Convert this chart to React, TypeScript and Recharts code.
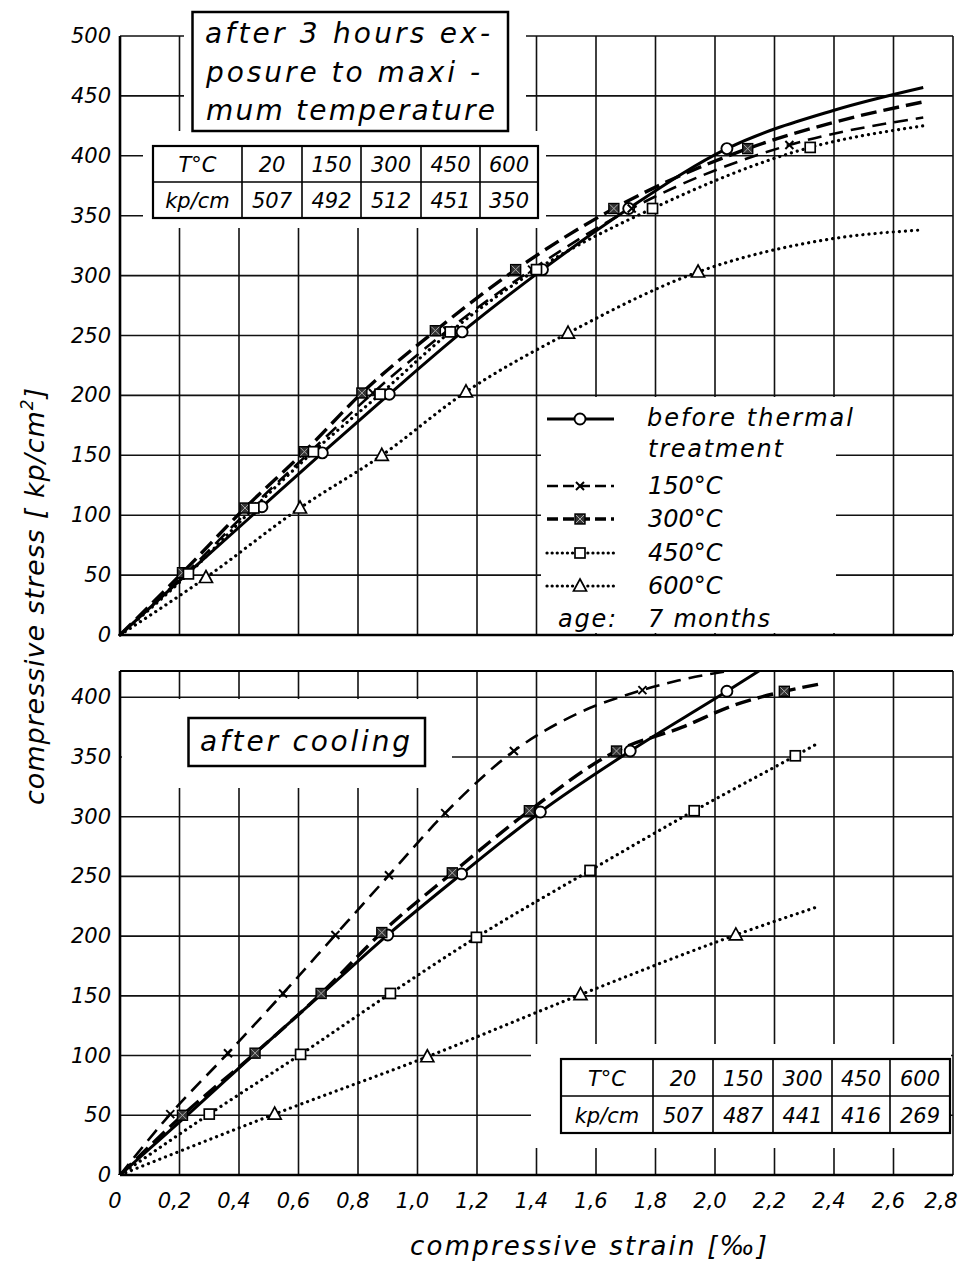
import { CartesianGrid, ComposedChart, Line, ReferenceLine, Scatter, XAxis, YAxis } from "recharts"

const FONT = "'DejaVu Sans', 'Liberation Sans', sans-serif"

const strainTicks = [0, 0.2, 0.4, 0.6, 0.8, 1.0, 1.2, 1.4, 1.6, 1.8, 2.0, 2.2, 2.4, 2.6, 2.8]
const topStressTicks = [0, 50, 100, 150, 200, 250, 300, 350, 400, 450, 500]
const bottomStressTicks = [0, 50, 100, 150, 200, 250, 300, 350, 400]
const bottomStressMax = 422

const tempLabels = ["20", "150", "300", "450", "600"]
const topStrength = ["507", "492", "512", "451", "350"]
const bottomStrength = ["507", "487", "441", "416", "269"]

const legendLabels = ["before thermal", "treatment", "150°C", "300°C", "450°C", "600°C"]

// after 3 hours exposure to maximum temperature  [strain ‰, stress kp/cm2]
const topBeforeMarks = [[0.477, 107], [0.68, 152], [0.905, 201], [1.15, 253], [1.42, 305], [1.71, 356], [2.04, 406]]
const topBeforeCurve = [[0, 0], [0.23, 52], ...topBeforeMarks, [2.4, 438], [2.7, 457]]
const top150Marks = [[0.22, 51], [0.44, 106], [0.64, 153], [0.85, 202], [1.1, 254], [1.385, 305], [1.72, 356], [2.25, 409]]
const top150Curve = [[0, 0], ...top150Marks, [2.7, 432]]
const top300Marks = [[0.21, 52], [0.42, 106], [0.62, 153], [0.813, 202], [1.06, 254], [1.33, 305], [1.66, 356], [2.11, 406]]
const top300Curve = [[0, 0], ...top300Marks, [2.4, 428], [2.7, 445]]
const top450Marks = [[0.23, 51], [0.45, 106], [0.65, 153], [0.874, 201], [1.11, 253], [1.4, 305], [1.79, 356], [2.32, 407]]
const top450Curve = [[0, 0], ...top450Marks, [2.7, 425]]
const top600Marks = [[0.289, 48], [0.605, 106], [0.88, 150], [1.163, 203], [1.506, 252], [1.943, 303]]
const top600Curve = [[0, 0], ...top600Marks, [2.4, 331], [2.69, 338]]

// after cooling
const botBeforeMarks = [[0.9, 201], [1.148, 252], [1.413, 304], [1.715, 355], [2.04, 405]]
const botBeforeCurve = [[0, 0], [0.23, 51], [0.455, 102], [0.68, 152], ...botBeforeMarks, [2.16, 424]]
const bot150Marks = [[0.169, 51], [0.363, 102], [0.548, 152], [0.724, 201], [0.904, 251], [1.093, 303], [1.324, 355], [1.756, 406]]
const bot150Curve = [[0, 0], ...bot150Marks.slice(0, 7), [1.543, 387], bot150Marks[7], [1.876, 414], [2.1, 424]]
const bot300Marks = [[0.21, 50], [0.454, 102], [0.676, 152], [0.88, 203], [1.117, 253], [1.376, 305], [1.669, 355], [2.233, 405]]
const bot300Curve = [[0, 0], ...bot300Marks.slice(0, 7), [1.89, 375], [2.06, 393], bot300Marks[7], [2.35, 411]]
const bot450Marks = [[0.3, 51], [0.607, 101], [0.909, 152], [1.198, 199], [1.58, 255], [1.93, 305], [2.27, 351]]
const bot450Curve = [[0, 0], ...bot450Marks, [2.35, 362]]
const bot600Marks = [[0.52, 51], [1.033, 99], [1.548, 151], [2.07, 201]]
const bot600Curve = [[0, 0], ...bot600Marks, [2.35, 225]]

const pts = (arr: number[][]) => arr.map(([s, v]) => ({ s, v }))

type Kind = "circle" | "cross" | "star" | "square" | "triangle"

function Marker({ kind, cx, cy }: { kind: Kind; cx: number; cy: number }) {
  if (kind === "circle") return <circle cx={cx} cy={cy} r={5.5} fill="#fff" stroke="#000" strokeWidth={1.9} />
  if (kind === "cross")
    return (
      <path
        d={`M${cx - 4},${cy - 4}L${cx + 4},${cy + 4}M${cx - 4},${cy + 4}L${cx + 4},${cy - 4}`}
        stroke="#000"
        strokeWidth={2}
      />
    )
  if (kind === "star")
    return (
      <g>
        <rect x={cx - 5} y={cy - 5} width={10} height={10} fill="#333" stroke="#000" strokeWidth={1.4} />
        <path
          d={`M${cx - 4},${cy - 4}L${cx + 4},${cy + 4}M${cx - 4},${cy + 4}L${cx + 4},${cy - 4}`}
          stroke="#aaa"
          strokeWidth={1}
        />
      </g>
    )
  if (kind === "square")
    return <rect x={cx - 5} y={cy - 5} width={10} height={10} fill="#fff" stroke="#000" strokeWidth={1.7} />
  return (
    <path
      d={`M${cx},${cy - 7}L${cx + 6.5},${cy + 5}L${cx - 6.5},${cy + 5}Z`}
      fill="#fff"
      stroke="#000"
      strokeWidth={1.7}
    />
  )
}

const styles: Record<string, { w: number; dash?: string; kind: Kind }> = {
  before: { w: 3, kind: "circle" },
  t150: { w: 2.6, dash: "14 8", kind: "cross" },
  t300: { w: 3.4, dash: "16 7", kind: "star" },
  t450: { w: 3.2, dash: "0.1 6", kind: "square" },
  t600: { w: 3.2, dash: "0.1 6", kind: "triangle" },
}

const isDotted = (key: string) => !!styles[key].dash && styles[key].dash!.startsWith("0.1")

const YTick = (props: any) => (
  <text
    x={props.x}
    y={props.y}
    textAnchor="end"
    dominantBaseline="central"
    fontFamily={FONT}
    fontStyle="italic"
    fontSize={21}
    fill="#000"
  >
    {props.payload.value}
  </text>
)

const XTick = (props: any) => {
  const v = props.payload.value
  return (
    <text
      x={props.x - (v >= 2.8 ? 12 : 5)}
      y={props.y + 33}
      textAnchor="middle"
      fontFamily={FONT}
      fontStyle="italic"
      fontSize={21}
      fill="#000"
    >
      {v === 0 ? "0" : v.toFixed(1).replace(".", ",")}
    </text>
  )
}

function seriesEls(list: { key: string; curve: number[][]; marks: number[][] }[]) {
  const lines = list.map(({ key, curve }) => (
    <Line
      key={"l" + key}
      data={pts(curve)}
      dataKey="v"
      type="monotone"
      stroke="#000"
      strokeWidth={styles[key].w}
      strokeDasharray={styles[key].dash}
      strokeLinecap={isDotted(key) ? "round" : "butt"}
      dot={false}
      activeDot={false}
      isAnimationActive={false}
    />
  ))
  const marks = list.map(({ key, marks }) => (
    <Scatter
      key={"m" + key}
      data={pts(marks)}
      dataKey="v"
      isAnimationActive={false}
      shape={(p: any) => <Marker kind={styles[key].kind} cx={p.cx} cy={p.cy} />}
    />
  ))
  return [...lines, ...marks]
}

function TableBox({ x, y, cols, rowH, rows }: { x: number; y: number; cols: number[]; rowH: number; rows: string[][] }) {
  const right = cols[cols.length - 1]
  return (
    <g>
      <rect x={x} y={y} width={right - x} height={rowH * 2} fill="#fff" stroke="#000" strokeWidth={2.2} />
      <line x1={x} x2={right} y1={y + rowH} y2={y + rowH} stroke="#000" strokeWidth={1.6} />
      {cols.slice(0, -1).map((c) => (
        <line key={c} x1={c} x2={c} y1={y} y2={y + rowH * 2} stroke="#000" strokeWidth={1.6} />
      ))}
      {rows.map((r, ri) =>
        r.map((t, ci) => {
          const l = ci === 0 ? x : cols[ci - 1]
          const rr = cols[ci]
          return (
            <text
              key={ri + "-" + ci}
              x={(l + rr) / 2}
              y={y + rowH * ri + rowH / 2 + 1}
              textAnchor="middle"
              dominantBaseline="central"
              fontFamily={FONT}
              fontStyle="italic"
              fontSize={21}
            >
              {t}
            </text>
          )
        })
      )}
    </g>
  )
}

const txt = { fontFamily: FONT, fontStyle: "italic" as const, fill: "#000" }

function Overlay() {
  const legendKeys = ["before", "t150", "t300", "t450", "t600"]
  const legendY = [419, 486, 519, 553, 586]
  return (
    <svg width={963} height={1263} style={{ position: "absolute", left: 0, top: 0, pointerEvents: "none" }}>
      {/* blank areas behind boxes */}
      <rect x={184} y={0} width={342} height={131} fill="#fff" />
      <rect x={143} y={131} width={403} height={97} fill="#fff" />
      <rect x={541} y={397} width={295} height={236} fill="#fff" />
      <rect x={836} y={397} width={40} height={44} fill="#fff" />
      <rect x={122} y={699} width={330} height={89} fill="#fff" />
      <rect x={531} y={1044} width={420} height={104} fill="#fff" />

      {/* top title */}
      <rect x={192.5} y={12} width={315.5} height={119} fill="#fff" stroke="#000" strokeWidth={2.5} />
      <text x={205} y={43} fontSize={28} textLength={285} lengthAdjust="spacing" {...txt}>after 3 hours ex-</text>
      <text x={206} y={82} fontSize={28} textLength={274} lengthAdjust="spacing" {...txt}>posure to maxi -</text>
      <text x={206} y={120} fontSize={28} textLength={289} lengthAdjust="spacing" {...txt}>mum temperature</text>

      <TableBox x={153} y={146} cols={[242, 302, 361, 421, 480, 538]} rowH={36} rows={[["T°C", ...tempLabels], ["kp/cm", ...topStrength]]} />

      {/* legend */}
      {legendKeys.map((k, i) => {
        const st = styles[k]
        return (
          <g key={k}>
            <line
              x1={547}
              x2={614}
              y1={legendY[i]}
              y2={legendY[i]}
              stroke="#000"
              strokeWidth={st.w}
              strokeDasharray={isDotted(k) ? "0.1 5" : k === "before" ? undefined : "11 5"}
              strokeLinecap={isDotted(k) ? "round" : "butt"}
            />
            <Marker kind={st.kind} cx={580} cy={legendY[i]} />
          </g>
        )
      })}
      <text x={647} y={426} fontSize={24} textLength={206} lengthAdjust="spacing" {...txt}>{legendLabels[0]}</text>
      <text x={648} y={457} fontSize={24} textLength={135} lengthAdjust="spacing" {...txt}>{legendLabels[1]}</text>
      <text x={648} y={494} fontSize={24} {...txt}>{legendLabels[2]}</text>
      <text x={648} y={527} fontSize={24} {...txt}>{legendLabels[3]}</text>
      <text x={648} y={561} fontSize={24} {...txt}>{legendLabels[4]}</text>
      <text x={648} y={594} fontSize={24} {...txt}>{legendLabels[5]}</text>
      <text x={558} y={627} fontSize={24} textLength={58} lengthAdjust="spacing" {...txt}>age:</text>
      <text x={648} y={627} fontSize={24} textLength={122} lengthAdjust="spacing" {...txt}>7 months</text>

      {/* bottom title */}
      <rect x={188.5} y={718} width={236.5} height={48} fill="#fff" stroke="#000" strokeWidth={2.5} />
      <text x={200} y={751} fontSize={28} textLength={210} lengthAdjust="spacing" {...txt}>after cooling</text>

      <TableBox x={561} y={1059} cols={[653, 713, 773, 832, 890, 950]} rowH={37} rows={[["T°C", ...tempLabels], ["kp/cm", ...bottomStrength]]} />

      {/* axis titles */}
      <text
        x={0}
        y={0}
        transform="translate(44,805) rotate(-90)"
        fontSize={27}
        textLength={417}
        lengthAdjust="spacing"
        {...txt}
      >
        compressive stress [ kp/cm<tspan dy={-11} fontSize={17}>2</tspan><tspan dy={11}>]</tspan>
      </text>
      <text x={410} y={1255} fontSize={26} textLength={357} lengthAdjust="spacing" {...txt}>
        compressive strain [‰]
      </text>
    </svg>
  )
}

export default function App() {
  return (
    <div style={{ position: "fixed", left: 0, top: 0, width: 963, height: 1263, background: "#fff", overflow: "hidden" }}>
      <div style={{ position: "absolute", left: 0, top: 0 }}>
        <ComposedChart width={963} height={655} margin={{ top: 36, right: 10, bottom: 20, left: 0 }}>
          <CartesianGrid stroke="#111" strokeWidth={1.6} />
          <XAxis type="number" dataKey="s" domain={[0, 2.8]} ticks={strainTicks} hide />
          <YAxis
            type="number"
            dataKey="v"
            domain={[0, 500]}
            ticks={topStressTicks}
            width={120}
            tickSize={0}
            tickMargin={9}
            axisLine={{ stroke: "#000", strokeWidth: 2.6 }}
            tick={YTick}
          />
          <ReferenceLine y={0} stroke="#000" strokeWidth={2.6} />
          {seriesEls([
            { key: "before", curve: topBeforeCurve, marks: topBeforeMarks },
            { key: "t150", curve: top150Curve, marks: top150Marks },
            { key: "t300", curve: top300Curve, marks: top300Marks },
            { key: "t450", curve: top450Curve, marks: top450Marks },
            { key: "t600", curve: top600Curve, marks: top600Marks },
          ])}
        </ComposedChart>
      </div>
      <div style={{ position: "absolute", left: 0, top: 650 }}>
        <ComposedChart width={963} height={613} margin={{ top: 21, right: 10, bottom: 48, left: 0 }}>
          <CartesianGrid stroke="#111" strokeWidth={1.6} />
          <XAxis
            type="number"
            dataKey="s"
            domain={[0, 2.8]}
            ticks={strainTicks}
            height={40}
            tickSize={0}
            tickMargin={0}
            axisLine={{ stroke: "#000", strokeWidth: 2.6 }}
            tick={XTick}
          />
          <YAxis
            type="number"
            dataKey="v"
            domain={[0, bottomStressMax]}
            allowDataOverflow
            ticks={bottomStressTicks}
            width={120}
            tickSize={0}
            tickMargin={9}
            axisLine={{ stroke: "#000", strokeWidth: 2.6 }}
            tick={YTick}
          />
          <ReferenceLine y={bottomStressMax} stroke="#000" strokeWidth={2} />
          {seriesEls([
            { key: "before", curve: botBeforeCurve, marks: botBeforeMarks },
            { key: "t150", curve: bot150Curve, marks: bot150Marks },
            { key: "t300", curve: bot300Curve, marks: bot300Marks },
            { key: "t450", curve: bot450Curve, marks: bot450Marks },
            { key: "t600", curve: bot600Curve, marks: bot600Marks },
          ])}
        </ComposedChart>
      </div>
      <Overlay />
    </div>
  )
}
